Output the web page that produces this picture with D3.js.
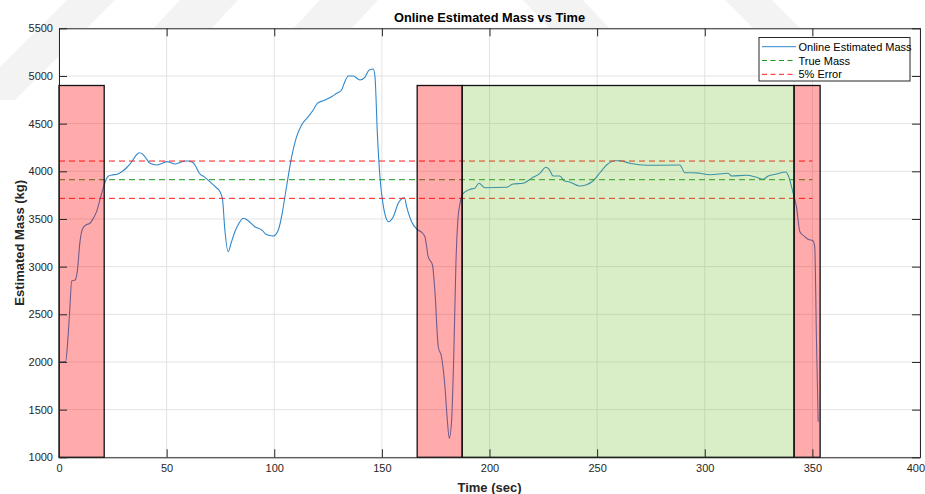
<!DOCTYPE html>
<html>
<head>
<meta charset="utf-8">
<script src="https://cdn.jsdelivr.net/npm/d3@7"></script>
<style>
  html, body { margin: 0; padding: 0; background: #fff; }
  svg { display: block; font-family: "Liberation Sans", Arial, sans-serif; }
</style>
</head>
<body>
<svg id="chart" width="925" height="494"></svg>
<script>
// Online mass estimate over time (sec, kg)
const timeSec = [0, 3.1, 4.0, 5.0, 5.9, 7.5, 8.5, 9.75, 11.0, 12.5, 14.4, 16.0, 17.5, 19.0, 20.5, 21.8, 23.0, 24.5, 27.0, 29.2,
  31.5, 33.8, 35.5, 37.3, 38.8, 40.0, 42.3, 45.4, 48.0, 50.0, 52.0, 53.9, 56.5, 58.5, 60.0, 62.4, 63.8, 65.2, 67.8, 70.9,
  73.0, 74.8, 76.0, 77.0, 78.6, 80.0, 81.7, 83.5, 85.6, 87.9, 91.0, 94.6, 96.1, 99.5, 101.9, 103.4, 105.7, 108.1, 110.4, 112.7,
  115.8, 118.1, 120.0, 122.8, 126.6, 129.0, 131.3, 132.5, 134.4, 136.7, 139.8, 142.1, 144.1, 146.0, 146.8, 147.9, 149.1, 150.6, 151.8, 153.0,
  155.3, 157.6, 159.4, 160.5, 161.5, 163.8, 166.1, 168.5, 170.0, 170.8, 171.5, 173.5, 174.6, 176.2, 177.7, 179.3, 180.4, 181.3, 182.4, 183.5,
  184.4, 185.2, 186.3, 187.8, 190.9, 193.2, 195.1, 197.9, 207.9, 211.0, 215.6, 219.5, 223.4, 226.2, 227.7, 229.6, 232.7, 234.6, 237.3, 241.7,
  245.1, 248.2, 251.5, 254.4, 258.2, 260.6, 265.2, 273.0, 288.4, 290.8, 294.6, 297.7, 302.4, 310.9, 312.4, 319.4, 324.0, 327.1, 329.5, 333.3,
  337.7, 338.7, 341.1, 342.6, 344.2, 346.5, 348.0, 350.3, 351.1, 351.9, 352.7];
const estimatedMass = [2000, 2005, 2200, 2550, 2850, 2860, 2950, 3262, 3400, 3437, 3455, 3510, 3580, 3700, 3820, 3909, 3950, 3961, 3970, 3996,
  4040, 4100, 4160, 4195, 4180, 4150, 4084, 4066, 4085, 4101, 4090, 4077, 4095, 4108, 4108, 4090, 4040, 3979, 3937, 3874,
  3830, 3786, 3699, 3400, 3157, 3250, 3366, 3450, 3507, 3482, 3419, 3377, 3339, 3321, 3384, 3524, 3838, 4153, 4363, 4486,
  4573, 4643, 4713, 4741, 4783, 4818, 4853, 4923, 5000, 5000, 4958, 4986, 5063, 5073, 4992, 4398, 3943, 3646, 3520, 3471,
  3524, 3664, 3715, 3723, 3629, 3471, 3395, 3360, 3314, 3209, 3104, 3017, 2755, 2160, 2055, 1740, 1391, 1199, 1391, 2160,
  3035, 3455, 3664, 3769, 3811, 3822, 3874, 3828, 3832, 3867, 3874, 3926, 3979, 4042, 4021, 3951, 3951, 3901, 3888, 3846,
  3860, 3901, 3990, 4066, 4111, 4111, 4084, 4063, 4066, 3985, 3985, 3979, 3964, 3979, 3951, 3958, 3937, 3916, 3951, 3972,
  3993, 3961, 3769, 3629, 3366, 3314, 3287, 3272, 3209, 2230, 1373];

// Reference levels (kg) and their time span (sec)
const trueMass = 3912;
const errorBand = 0.05;
const refSpan = [0, 350];

// Shaded phases: start, end (sec), kind
const phaseStart = [0, 166.4, 187.3, 341.5];
const phaseEnd   = [21, 187.3, 341.5, 353.6];
const phaseKind  = ["out", "out", "in", "out"];
const phaseTop = 4900;

// Axis ticks
const xTicks = [0, 50, 100, 150, 200, 250, 300, 350, 400];
const yTicks = [1000, 1500, 2000, 2500, 3000, 3500, 4000, 4500, 5000, 5500];

const legendLabels = ["Online Estimated Mass", "True Mass", "5% Error"];

const svg = d3.select("#chart");
const W = 925, H = 494;
const m = { left: 59, right: 5, top: 28.3, bottom: 36.7 };
const x = d3.scaleLinear().domain([0, 400]).range([m.left, W - m.right]);
const y = d3.scaleLinear().domain([1000, 5500]).range([H - m.bottom, m.top]);

// faint background watermark strokes
const marks = [
  [[67, 0], [115, 0], [15, 100], [-33, 100]],
  [[180, 0], [238, 0], [210, 30], [152, 30]],
  [[320, 0], [378, 0], [350, 30], [292, 30]],
  [[523, 0], [583, 0], [611, 30], [551, 30]],
  [[725, 0], [772, 0], [802, 30], [755, 30]]
];
svg.append("g").selectAll("polygon").data(marks).join("polygon")
  .attr("points", d => d.map(p => p.join(",")).join(" "))
  .attr("fill", "#f3f3f3");

// plot background
svg.append("rect")
  .attr("x", x(0)).attr("y", y(5500))
  .attr("width", x(400) - x(0)).attr("height", y(1000) - y(5500))
  .attr("fill", "#fff");

const plot = svg.append("g");
svg.append("clipPath").attr("id", "clip").append("rect")
  .attr("x", x(0)).attr("y", y(5500))
  .attr("width", x(400) - x(0)).attr("height", y(1000) - y(5500));

// grid
plot.append("g").selectAll("line").data(xTicks).join("line")
  .attr("x1", d => x(d)).attr("x2", d => x(d))
  .attr("y1", y(1000)).attr("y2", y(5500))
  .attr("stroke", "#e3e3e3").attr("stroke-width", 1);
plot.append("g").selectAll("line").data(yTicks).join("line")
  .attr("x1", x(0)).attr("x2", x(400))
  .attr("y1", d => y(d)).attr("y2", d => y(d))
  .attr("stroke", "#e3e3e3").attr("stroke-width", 1);

// estimate curve
const series = timeSec.map((t, i) => [t, estimatedMass[i]]);
const line = d3.line().x(d => x(d[0])).y(d => y(d[1])).curve(d3.curveMonotoneX);
plot.append("path")
  .datum(series)
  .attr("clip-path", "url(#clip)")
  .attr("d", line)
  .attr("fill", "none")
  .attr("stroke", "#2f87cc")
  .attr("stroke-width", 1.1)
  .attr("stroke-linejoin", "round");

// reference levels
const levels = [
  { v: trueMass * (1 + errorBand), c: "#ff1a1a" },
  { v: trueMass, c: "#1f961f" },
  { v: trueMass * (1 - errorBand), c: "#ff1a1a" }
];
plot.append("g").selectAll("line").data(levels).join("line")
  .attr("x1", x(refSpan[0])).attr("x2", x(refSpan[1]))
  .attr("y1", d => y(d.v)).attr("y2", d => y(d.v))
  .attr("stroke", d => d.c).attr("stroke-width", 1)
  .attr("stroke-dasharray", "6,4");

// phase shading
const phases = phaseStart.map((s, i) => ({ s, e: phaseEnd[i], k: phaseKind[i] }));
plot.append("g").selectAll("rect").data(phases).join("rect")
  .attr("x", d => x(d.s)).attr("width", d => x(d.e) - x(d.s))
  .attr("y", y(phaseTop)).attr("height", y(1000) - y(phaseTop))
  .attr("fill", d => d.k === "in" ? "#67b71f" : "#ff0000")
  .attr("fill-opacity", d => d.k === "in" ? 0.25 : 0.33)
  .attr("stroke", "none");
plot.append("g").selectAll("rect").data(phases).join("rect")
  .attr("x", d => x(d.s)).attr("width", d => x(d.e) - x(d.s))
  .attr("y", y(phaseTop)).attr("height", y(1000) - y(phaseTop))
  .attr("fill", "none")
  .attr("stroke", "#111").attr("stroke-width", 1.3);

// axes box with inward ticks
const axisColor = "#262626";
const tickLen = 8;
const axes = svg.append("g");
const xAxisG = axes.append("g").attr("transform", `translate(0,${y(1000)})`)
  .call(d3.axisBottom(x).tickValues(xTicks).tickSizeInner(-tickLen).tickSizeOuter(0).tickPadding(7))
  .call(g => g.select(".domain").attr("stroke", axisColor));
// keep the last label inside the page edge
xAxisG.selectAll(".tick text").filter(d => d === 400)
  .attr("text-anchor", "end").attr("x", 4.5);
axes.append("g").attr("transform", `translate(0,${y(5500)})`)
  .call(d3.axisTop(x).tickValues(xTicks).tickSizeInner(-tickLen).tickSizeOuter(0).tickFormat(""))
  .call(g => g.select(".domain").attr("stroke", axisColor));
axes.append("g").attr("transform", `translate(${x(0)},0)`)
  .call(d3.axisLeft(y).tickValues(yTicks).tickSizeInner(-tickLen).tickSizeOuter(0).tickPadding(6).tickFormat(d3.format("d")))
  .call(g => g.select(".domain").attr("stroke", axisColor));
axes.append("g").attr("transform", `translate(${x(400)},0)`)
  .call(d3.axisRight(y).tickValues(yTicks).tickSizeInner(-tickLen).tickSizeOuter(0).tickFormat(""))
  .call(g => g.select(".domain").attr("stroke", axisColor));
axes.selectAll(".tick line").attr("stroke", axisColor);
axes.selectAll(".tick text")
  .attr("fill", axisColor)
  .style("font-family", "'Liberation Sans', Arial, sans-serif")
  .style("font-size", "11px");

// titles
svg.append("text")
  .attr("x", (x(0) + x(400)) / 2).attr("y", 22)
  .attr("text-anchor", "middle")
  .style("font-size", "12.8px").style("font-weight", "bold")
  .attr("fill", "#000")
  .text("Online Estimated Mass vs Time");
svg.append("text")
  .attr("x", (x(0) + x(400)) / 2).attr("y", 492)
  .attr("text-anchor", "middle")
  .style("font-size", "13px").style("font-weight", "bold")
  .attr("fill", axisColor)
  .text("Time (sec)");
svg.append("text")
  .attr("transform", `translate(24,${(y(1000) + y(5500)) / 2}) rotate(-90)`)
  .attr("text-anchor", "middle")
  .style("font-size", "13px").style("font-weight", "bold")
  .attr("fill", axisColor)
  .text("Estimated Mass (kg)");

// legend
const lg = svg.append("g");
lg.append("rect")
  .attr("x", 759).attr("y", 37.5).attr("width", 151).attr("height", 43.5)
  .attr("fill", "#fff").attr("stroke", "#262626").attr("stroke-width", 1);
const legendStyles = [
  { c: "#2f87cc", dash: null },
  { c: "#1f961f", dash: "5,3.5" },
  { c: "#ff1a1a", dash: "5,3.5" }
];
legendLabels.forEach((lab, i) => {
  const cy = 46.7 + i * 13.8;
  lg.append("line")
    .attr("x1", 762).attr("x2", 796).attr("y1", cy).attr("y2", cy)
    .attr("stroke", legendStyles[i].c).attr("stroke-width", 1)
    .attr("stroke-dasharray", legendStyles[i].dash);
  lg.append("text")
    .attr("x", 798.5).attr("y", cy + 4)
    .style("font-size", "11px")
    .attr("fill", "#000")
    .text(lab);
});
</script>
</body>
</html>
